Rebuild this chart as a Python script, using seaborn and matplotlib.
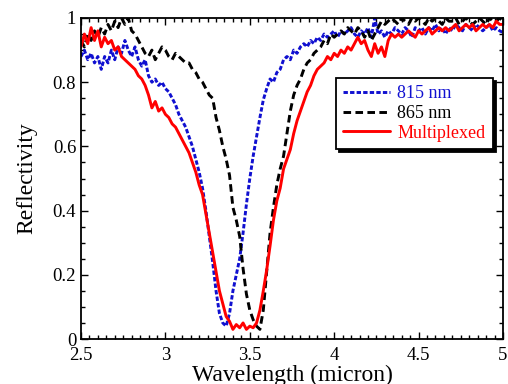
import numpy as np
import pandas as pd
import matplotlib
matplotlib.use("Agg")
import matplotlib.pyplot as plt
from matplotlib.ticker import MultipleLocator, FuncFormatter
import seaborn as sns

wavelength = [
    2.50, 2.52, 2.54, 2.56, 2.58, 2.60, 2.62, 2.64, 2.66, 2.68,
    2.70, 2.72, 2.74, 2.76, 2.78, 2.80, 2.82, 2.84, 2.86, 2.88,
    2.90, 2.92, 2.94, 2.96, 2.98, 3.00, 3.02, 3.04, 3.06, 3.08,
    3.10, 3.12, 3.14, 3.16, 3.18, 3.20, 3.22, 3.24, 3.26, 3.28,
    3.30, 3.32, 3.34, 3.36, 3.38, 3.40, 3.42, 3.44, 3.46, 3.48,
    3.50, 3.52, 3.54, 3.56, 3.58, 3.60, 3.62, 3.64, 3.66, 3.68,
    3.70, 3.72, 3.74, 3.76, 3.78, 3.80, 3.82, 3.84, 3.86, 3.88,
    3.90, 3.92, 3.94, 3.96, 3.98, 4.00, 4.02, 4.04, 4.06, 4.08,
    4.10, 4.12, 4.14, 4.16, 4.18, 4.20, 4.22, 4.24, 4.26, 4.28,
    4.30, 4.32, 4.34, 4.36, 4.38, 4.40, 4.42, 4.44, 4.46, 4.48,
    4.50, 4.52, 4.54, 4.56, 4.58, 4.60, 4.62, 4.64, 4.66, 4.68,
    4.70, 4.72, 4.74, 4.76, 4.78, 4.80, 4.82, 4.84, 4.86, 4.88,
    4.90, 4.92, 4.94, 4.96, 4.98, 5.00,
]

refl_815 = [
    0.88, 0.90, 0.87, 0.89, 0.86, 0.88, 0.84, 0.88, 0.86, 0.90,
    0.87, 0.91, 0.89, 0.93, 0.90, 0.88, 0.91, 0.87, 0.85, 0.87,
    0.82, 0.80, 0.81, 0.79, 0.80, 0.78, 0.77, 0.75, 0.73, 0.70,
    0.68, 0.66, 0.63, 0.60, 0.56, 0.52, 0.47, 0.40, 0.32, 0.24,
    0.15, 0.08, 0.05, 0.04, 0.08, 0.15, 0.20, 0.25, 0.33, 0.42,
    0.50, 0.57, 0.63, 0.69, 0.745, 0.78, 0.81, 0.80, 0.83, 0.84,
    0.87, 0.88, 0.87, 0.90, 0.89, 0.91, 0.92, 0.91, 0.93, 0.92,
    0.94, 0.93, 0.95, 0.94, 0.95, 0.96, 0.94, 0.96, 0.95, 0.96,
    0.97, 0.95, 0.94, 0.96, 0.95, 0.97, 0.94, 1.00, 0.95, 0.96,
    0.94, 0.96, 0.95, 0.97, 0.96, 0.95, 0.97, 0.96, 0.94, 0.97,
    0.96, 0.97, 0.95, 0.97, 0.96, 0.98, 0.96, 0.97, 0.95, 0.97,
    0.96, 0.98, 0.97, 0.96, 0.98, 0.97, 0.96, 0.98, 0.97, 0.96,
    0.97, 0.98, 0.96, 0.97, 0.96, 0.955,
]

refl_865 = [
    0.93, 0.91, 0.95, 0.93, 0.96, 0.94, 0.97, 0.95, 0.98, 0.96,
    0.99, 0.97, 1.00, 0.98, 1.00, 0.96, 0.95, 0.93, 0.91, 0.89,
    0.88, 0.90, 0.87, 0.89, 0.91, 0.90, 0.88, 0.87, 0.89, 0.88,
    0.87, 0.86, 0.86, 0.84, 0.83, 0.81, 0.80, 0.78, 0.76, 0.75,
    0.69, 0.65, 0.60, 0.56, 0.51, 0.41, 0.37, 0.32, 0.22, 0.14,
    0.09, 0.06, 0.04, 0.03, 0.09, 0.21, 0.33, 0.41, 0.48, 0.53,
    0.57, 0.64, 0.71, 0.76, 0.79, 0.81, 0.84, 0.86, 0.87, 0.89,
    0.90, 0.91, 0.93, 0.92, 0.95, 0.94, 0.95, 0.96, 0.95, 0.97,
    0.96, 0.95, 0.97, 0.96, 0.94, 0.96, 0.93, 0.95, 0.97, 0.99,
    0.98, 0.99, 1.00, 0.99, 0.98, 1.00, 0.99, 0.98, 1.00, 0.99,
    1.00, 0.99, 0.98, 1.00, 0.99, 1.00, 0.99, 0.98, 1.00, 0.99,
    0.99, 1.00, 0.98, 0.99, 1.00, 0.99, 0.98, 0.99, 1.00, 0.99,
    0.98, 1.00, 0.99, 0.99, 1.00, 0.99,
]

refl_multiplexed = [
    0.91, 0.95, 0.92, 0.97, 0.93, 0.96, 0.91, 0.94, 0.92, 0.93,
    0.90, 0.91, 0.88, 0.87, 0.86, 0.85, 0.84, 0.82, 0.81, 0.79,
    0.76, 0.72, 0.74, 0.71, 0.72, 0.70, 0.69, 0.67, 0.66, 0.64,
    0.62, 0.60, 0.58, 0.55, 0.52, 0.48, 0.45, 0.39, 0.33, 0.27,
    0.21, 0.15, 0.11, 0.07, 0.055, 0.03, 0.045, 0.035, 0.05, 0.03,
    0.04, 0.035, 0.05, 0.09, 0.15, 0.215, 0.29, 0.37, 0.43, 0.47,
    0.53, 0.56, 0.59, 0.64, 0.68, 0.71, 0.74, 0.77, 0.79, 0.82,
    0.84, 0.85, 0.86, 0.88, 0.87, 0.89, 0.88, 0.90, 0.89, 0.91,
    0.90, 0.92, 0.94, 0.92, 0.93, 0.90, 0.88, 0.92, 0.89, 0.91,
    0.88, 0.93, 0.95, 0.94, 0.95, 0.94, 0.95, 0.96, 0.95, 0.94,
    0.96, 0.95, 0.96, 0.97, 0.95, 0.96, 0.97, 0.96, 0.97, 0.96,
    0.97, 0.98, 0.96, 0.97, 0.98, 0.97, 0.98, 0.96, 0.97, 0.98,
    0.97, 0.98, 0.97, 0.99, 0.98, 0.98,
]

series_names = ["815 nm", "865 nm", "Multiplexed"]
series_colors = ["#1010d0", "black", "red"]

sns.set_theme(style="ticks")
plt.rcParams["font.family"] = ["Liberation Serif", "DejaVu Serif"]

fig = plt.figure(figsize=(5.08, 3.84), dpi=100)
ax = fig.add_axes([81 / 508, 45 / 384, 422 / 508, 321 / 384])

styles = [(0, (1.5, 0.75)), (0, (2.6, 1.5)), "-"]
for name, vals, col, ls in zip(series_names,
                               [refl_815, refl_865, refl_multiplexed],
                               series_colors, styles):
    df = pd.DataFrame({"x": wavelength, "y": vals})
    sns.lineplot(data=df, x="x", y="y", ax=ax, color=col, lw=2.1,
                 linestyle=ls, label=name, estimator=None, sort=False)

ax.set_xlim(2.5, 5)
ax.set_ylim(0, 1)
ax.xaxis.set_major_locator(MultipleLocator(0.5))
ax.xaxis.set_minor_locator(MultipleLocator(0.05))
ax.yaxis.set_major_locator(MultipleLocator(0.2))
ax.yaxis.set_minor_locator(MultipleLocator(0.05))
fmt = FuncFormatter(lambda v, p: "%g" % round(v, 3))
ax.xaxis.set_major_formatter(fmt)
ax.yaxis.set_major_formatter(fmt)
ax.tick_params(which="both", direction="in", top=True, right=True,
               colors="black", labelsize=13.5, width=1.0)
ax.tick_params(which="major", length=5)
ax.tick_params(which="minor", length=3)
ax.tick_params(axis="x", pad=6)
for s in ax.spines.values():
    s.set_color("black")
    s.set_linewidth(1.3)

ax.set_xlabel("Wavelength (micron)", fontsize=17, color="black", labelpad=0)
ax.set_ylabel("Reflectivity", fontsize=17, color="black", labelpad=11)

leg = ax.legend(loc="upper left", bbox_to_anchor=((336 - 81) / 422, (339 - 78) / 321),
                frameon=True, fancybox=False, shadow={"color": "black", "alpha": 1},
                fontsize=13, handlelength=2.6, handletextpad=0.4,
                borderpad=0.4, labelspacing=0.15, borderaxespad=0)
leg.get_frame().set_edgecolor("black")
leg.get_frame().set_linewidth(1.3)
for txt, col in zip(leg.get_texts(), series_colors):
    txt.set_color(col)

fig.savefig("out.png", dpi=100)
